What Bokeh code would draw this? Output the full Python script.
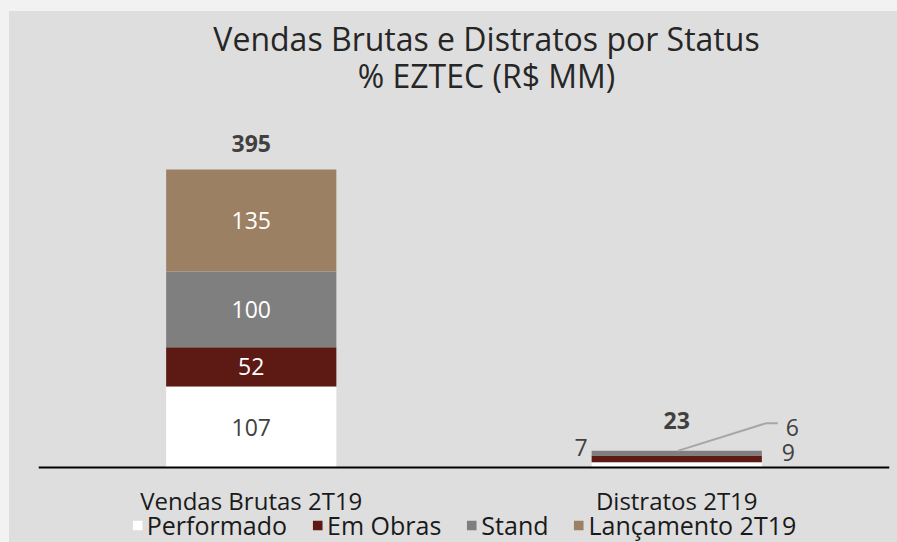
from bokeh.plotting import figure
from bokeh.models import FactorRange, Range1d, Legend, LegendItem, ColumnDataSource, Label
from bokeh.core.properties import value
from bokeh.embed import file_html
from bokeh.resources import INLINE

# ---- data ----
categories = ["Vendas Brutas 2T19", "Distratos 2T19"]
statuses = ["Performado", "Em Obras", "Stand", "Lançamento 2T19"]
performado = [107, 7]
em_obras = [52, 9]
stand = [100, 6]
lancamento = [135, 0]
totals = [395, 23]
title_lines = ["Vendas Brutas e Distratos por Status", "% EZTEC (R$ MM)"]

colors = ["#ffffff", "#5d1914", "#7f7f7f", "#9c8064"]
FONT = "Open Sans"
BG = "#dedede"
OUTER = "#f2f2f2"

W, H = 897, 542
LEFT, RIGHT, TOP = 38, 8, 11
AXIS_FROM_BOTTOM = 75
PX_PER_UNIT = 298 / 394.0
FRAME_W = W - LEFT - RIGHT
y0 = -AXIS_FROM_BOTTOM / PX_PER_UNIT
y1 = (H - TOP - AXIS_FROM_BOTTOM) / PX_PER_UNIT

p = figure(width=W, height=H,
           x_range=FactorRange(*categories),
           y_range=Range1d(y0, y1),
           output_backend="svg", toolbar_location=None,
           min_border_left=LEFT, min_border_right=RIGHT,
           min_border_top=TOP, min_border_bottom=0,
           y_axis_location=None)
p.background_fill_color = BG
p.border_fill_color = None
p.styles = {"background": f"linear-gradient({BG}, {BG}) 9px {TOP}px / {W - 9}px {H - TOP}px no-repeat, {OUTER}"}
p.outline_line_color = None
p.grid.visible = False

src = ColumnDataSource(dict(cat=categories, Performado=performado,
                            **{"Em Obras": em_obras, "Stand": stand,
                               "Lançamento 2T19": lancamento}))
rends = p.vbar_stack(statuses, x="cat", width=0.4, source=src,
                     color=colors, line_color=None)

ax = p.xaxis[0]
ax.fixed_location = 0
ax.axis_line_color = "#000000"
ax.axis_line_width = 2
ax.major_tick_line_color = None
ax.minor_tick_line_color = None
ax.major_label_standoff = 10
ax.major_label_text_font = FONT
ax.major_label_text_font_size = "24px"
ax.major_label_text_color = "#1a1a1a"

# ---- inside labels for first bar ----
series = [performado, em_obras, stand, lancamento]
lab_colors = ["#404040", "#ffffff", "#ffffff", "#ffffff"]
xs, ys, ts, cs = [], [], [], []
cum = 0
for s, c in zip(series, lab_colors):
    v = s[0]
    xs.append(categories[0]); ys.append(cum + v / 2); ts.append(str(v)); cs.append(c)
    cum += v
p.text(x="cat", y="y", text="t", text_color="c",
       source=ColumnDataSource(dict(cat=xs, y=ys, t=ts, c=cs)),
       text_font=value(FONT), text_font_size="23px",
       text_align="center", text_baseline="middle")

# ---- outside labels for second bar ----
d = [s[1] for s in series]
mid_perf = d[0] / 2
mid_obras = d[0] + d[1] / 2
mid_stand = d[0] + d[1] + d[2] / 2
top2 = d[0] + d[1] + d[2] + d[3]
out = dict(cat=[categories[1]] * 3,
           y=[mid_perf, mid_obras, mid_stand],
           t=[str(d[0]), str(d[1]), str(d[2])],
           xo=[-89, 105, 109], yo=[-17, -6, -26],
           al=["right", "left", "left"])
p.text(x="cat", y="y", text="t", x_offset="xo", y_offset="yo", text_align="al",
       source=ColumnDataSource(out), text_color="#404040",
       text_font=value(FONT), text_font_size="23px", text_baseline="middle")

# leader line for the Stand label (synthetic categorical coordinates)
unit_w = FRAME_W / 2.0
cx = 1.5
p.line(x=[cx + 1 / unit_w, cx + 89 / unit_w, cx + 101 / unit_w],
       y=[top2, top2 + 27.5 / PX_PER_UNIT, top2 + 27.5 / PX_PER_UNIT],
       line_color="#a6a6a6", line_width=2)

# ---- totals ----
stack_tops = [sum(s[i] for s in series) for i in range(2)]
p.text(x="cat", y="y", text="t", y_offset="yo",
       source=ColumnDataSource(dict(cat=categories, y=stack_tops,
                                    t=[str(t) for t in totals], yo=[-26, -30])),
       text_color="#404040", text_font=value(FONT), text_font_size="23px",
       text_font_style="bold", text_align="center", text_baseline="middle")

# ---- title ----
title_x = 1.0 + (486 - LEFT - unit_w) / unit_w
axis_y = H - AXIS_FROM_BOTTOM
p.add_layout(Label(x=title_x, y=(axis_y - 38) / PX_PER_UNIT,
                   text=title_lines[0], text_font=FONT, text_font_size="32px",
                   text_color="#262626", text_align="center", text_baseline="middle"))
p.add_layout(Label(x=title_x, y=(axis_y - 75) / PX_PER_UNIT,
                   text=title_lines[1], text_font=FONT, text_font_size="32px",
                   text_color="#262626", text_align="center", text_baseline="middle"))

# ---- legend ----
legend = Legend(items=[LegendItem(label=s, renderers=[r]) for s, r in zip(statuses, rends)],
                orientation="horizontal", location="bottom_center",
                label_text_font=FONT, label_text_font_size="25px",
                label_text_color="#1a1a1a",
                glyph_width=12, glyph_height=12, label_standoff=4, spacing=24,
                padding=0, margin=0, background_fill_alpha=0, border_line_alpha=0)
p.add_layout(legend)

open("out.html", "w").write(file_html(p, INLINE))
